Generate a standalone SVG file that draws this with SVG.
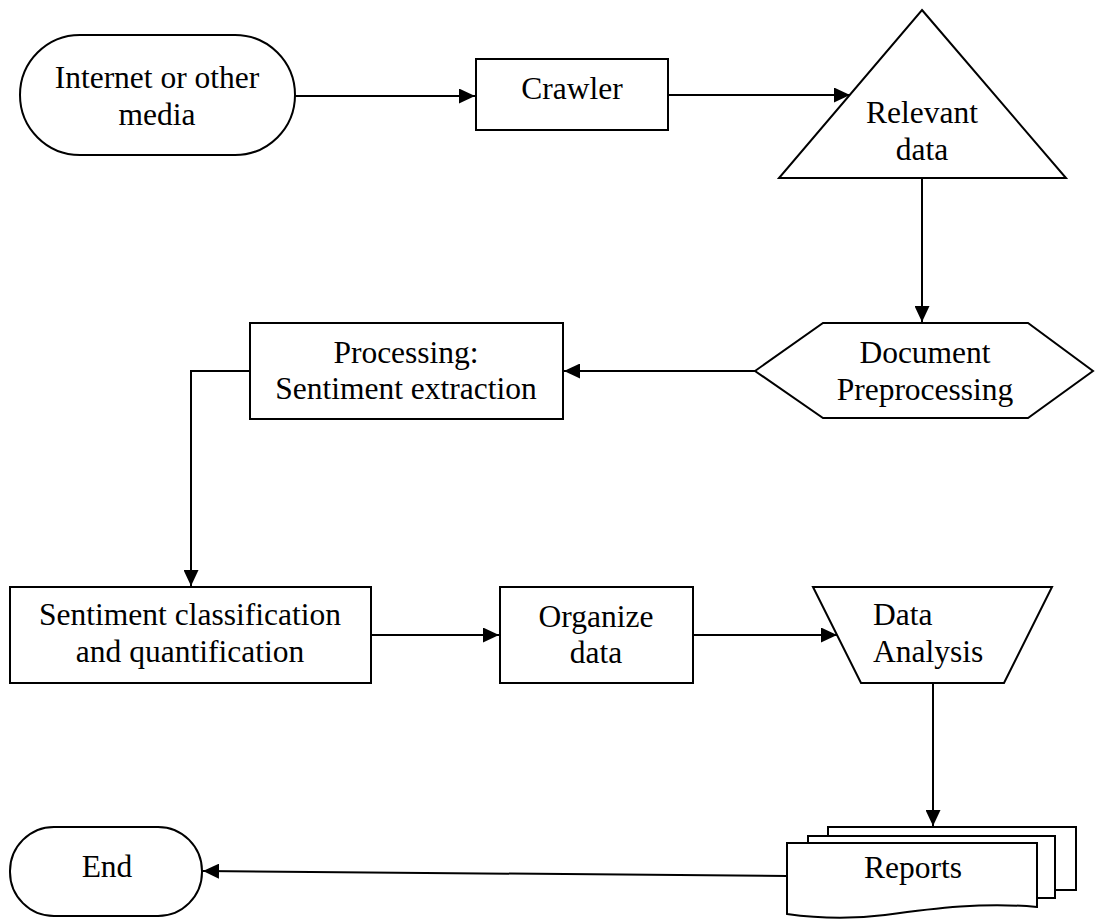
<svg xmlns="http://www.w3.org/2000/svg" width="1095" height="919" viewBox="0 0 1095 919">
<defs>
<style>
.s{fill:#fff;stroke:#000;stroke-width:2}
.c{fill:none;stroke:#000;stroke-width:2}
text{font-family:"Liberation Serif","Times New Roman",serif;font-size:31.5px;fill:#000}
.m{text-anchor:middle}
</style>
<marker id="a" markerWidth="16" markerHeight="15" refX="16" refY="7.5" orient="auto" markerUnits="userSpaceOnUse">
<path d="M0,0 L16,7.5 L0,15 Z" fill="#000"/>
</marker>
</defs>
<rect width="1095" height="919" fill="#fff"/>
<g id="connectors">
<line class="c" x1="295" y1="96" x2="475" y2="96" marker-end="url(#a)"/>
<line class="c" x1="668" y1="95" x2="850" y2="95" marker-end="url(#a)"/>
<line class="c" x1="922" y1="178" x2="922" y2="322" marker-end="url(#a)"/>
<line class="c" x1="755" y1="371" x2="564" y2="371" marker-end="url(#a)"/>
<polyline class="c" points="250,371 191,371 191,586" marker-end="url(#a)"/>
<line class="c" x1="371" y1="635" x2="499" y2="635" marker-end="url(#a)"/>
<line class="c" x1="693" y1="635" x2="837" y2="635" marker-end="url(#a)"/>
<line class="c" x1="933" y1="683" x2="933" y2="826" marker-end="url(#a)"/>
<line class="c" x1="787" y1="876" x2="203" y2="871" marker-end="url(#a)"/>
</g>
<g id="internet">
<rect class="s" x="20" y="35" width="275" height="120" rx="60" ry="60"/>
<text class="m" x="157" y="88">Internet or other</text>
<text class="m" x="157" y="125">media</text>
</g>
<g id="crawler">
<rect class="s" x="476" y="59" width="192" height="71"/>
<text class="m" x="572" y="99">Crawler</text>
</g>
<g id="relevant">
<polygon class="s" points="922,10 1066,178 779,178"/>
<text class="m" x="922" y="123">Relevant</text>
<text class="m" x="922" y="160">data</text>
</g>
<g id="preprocessing">
<polygon class="s" points="755,371 823,323 1028,323 1093,371 1028,418 823,418"/>
<text class="m" x="925" y="363">Document</text>
<text class="m" x="925" y="400">Preprocessing</text>
</g>
<g id="processing">
<rect class="s" x="250" y="323" width="313" height="96"/>
<text class="m" x="406" y="363">Processing:</text>
<text class="m" x="406" y="399">Sentiment extraction</text>
</g>
<g id="classification">
<rect class="s" x="10" y="587" width="361" height="96"/>
<text class="m" x="190" y="625">Sentiment classification</text>
<text class="m" x="190" y="662">and quantification</text>
</g>
<g id="organize">
<rect class="s" x="500" y="587" width="193" height="96"/>
<text class="m" x="596" y="627">Organize</text>
<text class="m" x="596" y="663">data</text>
</g>
<g id="analysis">
<polygon class="s" points="813,587 1052,587 1004,683 861,683"/>
<text x="873" y="625">Data</text>
<text x="873" y="662">Analysis</text>
</g>
<g id="reports">
<path class="s" d="M828,890 V827 H1076 V890 H1055"/>
<path class="s" d="M808,898 V836 H1055 V898 H1037"/>
<path class="s" d="M787,843 H1037 V907 C985,902 935,908 885,915 C845,920 815,918 787,914 Z"/>
<text class="m" x="913" y="878">Reports</text>
</g>
<g id="end">
<rect class="s" x="10" y="827" width="192" height="89" rx="44" ry="44"/>
<text class="m" x="107" y="877">End</text>
</g>
</svg>
